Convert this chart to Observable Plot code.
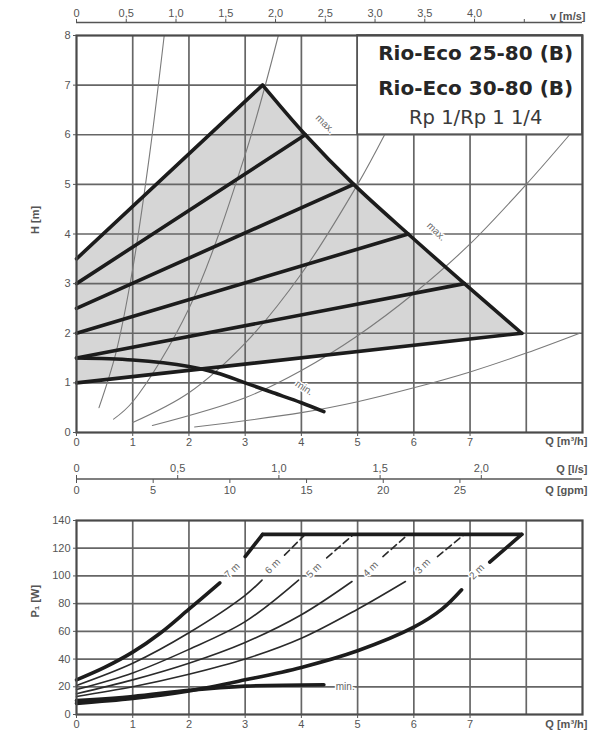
<!DOCTYPE html>
<html><head><meta charset="utf-8">
<script src="https://cdn.jsdelivr.net/npm/d3@7"></script>
<script src="https://cdn.jsdelivr.net/npm/@observablehq/plot@0.6"></script>
<style>
body{margin:0;background:#fff;}
#chart svg{display:block;}
</style></head><body><div id="chart"></div>
<script>
// ---------- Upper chart: head H [m] vs flow Q [m³/h] ----------
const speedLabels = ["7 m","6 m","5 m","4 m","3 m","2 m"];
const speedStartH = [3.5, 3.0, 2.5, 2.0, 1.5, 1.0];      // H at Q = 0
const speedEndQ   = [3.31, 4.07, 4.93, 5.9, 6.9, 7.92];  // end on the max. line
const speedEndH   = [7.0, 6.0, 5.0, 4.0, 3.0, 2.0];
const minCurveQ = [0, 1, 2, 2.5, 3, 3.5, 4, 4.4];
const minCurveH = [1.5, 1.46, 1.33, 1.2, 1.0, 0.8, 0.6, 0.42];
const shadeQ = [0, 0, 3.31, 4.07, 4.93, 5.9, 6.9, 7.92, 0];
const shadeH = [1.0, 3.5, 7.0, 6.0, 5.0, 4.0, 3.0, 2.0, 1.0];
// thin system curves
const sys1Q = [0.4, 0.7, 1.0, 1.3, 1.56],            sys1H = [0.5, 1.6, 3.3, 5.6, 8.0];
const sys2Q = [0.66, 1.0, 2.0, 3.0, 3.59],           sys2H = [0.27, 0.62, 2.5, 5.6, 8.0];
const sys3Q = [1.0, 2.0, 3.0, 4.0, 5.0, 5.48],       sys3H = [0.2, 0.8, 1.8, 3.2, 5.0, 6.0];
const sys4Q = [1.35, 3.0, 4.0, 5.0, 6.0, 7.0, 8.0, 8.77], sys4H = [0.14, 0.7, 1.25, 1.95, 2.8, 3.8, 5.0, 6.0];
const sys5Q = [2.1, 4.0, 5.0, 6.0, 7.0, 8.0, 8.95],  sys5H = [0.11, 0.4, 0.62, 0.9, 1.22, 1.6, 2.0];
const titleLines = ["Rio-Eco 25-80 (B)", "Rio-Eco 30-80 (B)", "Rp 1/Rp 1 1/4"];

// ---------- Axes tick values ----------
const qTicks = [0, 1, 2, 3, 4, 5, 6, 7];
const hTicks = [0, 1, 2, 3, 4, 5, 6, 7, 8];
const vTicks = [0, 0.5, 1.0, 1.5, 2.0, 2.5, 3.0, 3.5, 4.0, 4.5];
const vLabels = ["0", "0,5", "1,0", "1,5", "2,0", "2,5", "3,0", "3,5", "4,0", ""];
const lsTicks = [0, 0.5, 1.0, 1.5, 2.0];
const lsLabels = ["0", "0,5", "1,0", "1,5", "2,0"];
const gpmTicks = [0, 5, 10, 15, 20, 25];
const gpmLabels = ["0", "5", "10", "15", "20", "25"];
const pTicks = [0, 20, 40, 60, 80, 100, 120, 140];

// ---------- Lower chart: power P1 [W] vs Q ----------
const p7Q = [0, 0.5, 1, 1.5, 2, 2.55],  p7P = [25, 34, 45, 59, 76, 95];
const p7Qb = [3.0, 3.31],               p7Pb = [114, 130];
const p6Q = [0, 1, 2, 3, 3.3],          p6P = [21, 37, 59, 86, 97];
const p6Qb = [3.7, 4.07],               p6Pb = [115, 130];
const p5Q = [0, 1, 2, 3, 3.95],         p5P = [18, 30, 47, 67, 97];
const p5Qb = [4.45, 4.93],              p5Pb = [113, 130];
const p4Q = [0, 1, 2, 3, 4, 4.9],       p4P = [15, 25, 37, 52, 72, 96];
const p4Qb = [5.45, 5.9],               p4Pb = [114, 130];
const p3Q = [0, 1, 2, 3, 4, 5, 5.85],   p3P = [13, 20, 29, 40, 55, 76, 96];
const p3Qb = [6.42, 6.9],               p3Pb = [114, 130];
const p2Q = [0, 1, 2, 3, 4, 5, 6, 6.5, 6.85], p2P = [8, 11.5, 17, 25, 34, 46, 63, 76, 90];
const p2Qb = [7.35, 7.92],              p2Pb = [110, 130];
const pMaxQ = [3.31, 7.92],             pMaxP = [130, 130];
const pMinQ = [0, 1, 2, 3, 4.4],        pMinP = [10, 13, 17.5, 20.5, 21.5];
const pLabelQ = [2.77, 3.49, 4.22, 5.23, 6.16, 7.12];
const pLabelP = [104, 107, 104, 105, 107, 103];

// unit conversions for the secondary axes
const QperV = 1.77, QperLs = 3.6, QperGpm = 0.2728;

const pts = (xs, ys, kx = "Q", ky = "H") => xs.map((x, i) => ({[kx]: x, [ky]: ys[i]}));

const FONT = "'Liberation Sans', Arial, sans-serif";
const TITLE_FONT = "'DejaVu Sans', sans-serif";
const GRID = "#666", INK = "#1c1c1c", TXT = "#555";
const W = 591, ML = 76, MR = 9;
const baseStyle = {fontFamily: FONT, fontSize: "11px", color: TXT, background: "white"};

const root = document.getElementById("chart");

// ----- v [m/s] axis -----
const vMap = new Map(vTicks.map((v, i) => [v * QperV, vLabels[i]]));
root.append(Plot.plot({
  width: W, height: 26, marginLeft: ML, marginRight: MR, marginTop: 22, marginBottom: 3,
  style: baseStyle,
  x: {domain: [0, 9]}, y: {domain: [0, 1], axis: null},
  marks: [
    Plot.ruleY([1], {stroke: "#555", strokeWidth: 1.5}),
    Plot.axisX(vTicks.map(v => v * QperV), {anchor: "top", tickSize: 4, tickPadding: 2, stroke: "#555", tickFormat: d => vMap.get(d)}),
    Plot.text(["v [m/s]"], {frameAnchor: "top-right", dy: -10, dx: 3, textAnchor: "end", fontWeight: "bold", fill: TXT})
  ]
}));

// ----- Upper chart -----
const speedRows = speedLabels.flatMap((s, i) => [
  {s, Q: 0, H: speedStartH[i]}, {s, Q: speedEndQ[i], H: speedEndH[i]}
]);
const sysRows = [[sys1Q, sys1H], [sys2Q, sys2H], [sys3Q, sys3H], [sys4Q, sys4H], [sys5Q, sys5H]]
  .flatMap(([qs, hs], k) => qs.map((q, i) => ({k, Q: q, H: hs[i]})));

root.append(Plot.plot({
  width: W, height: 426, marginLeft: ML, marginRight: MR, marginTop: 9, marginBottom: 20,
  style: baseStyle,
  x: {domain: [0, 9]},
  y: {domain: [0, 8]},
  marks: [
    Plot.line(pts(shadeQ, shadeH), {x: "Q", y: "H", fill: "#d6d6d6", stroke: "none"}),
    Plot.gridX([1, 2, 3, 4, 5, 6, 7, 8], {stroke: GRID, strokeOpacity: 1, strokeWidth: 1.7}),
    Plot.gridY([1, 2, 3, 4, 5, 6, 7], {stroke: GRID, strokeOpacity: 1, strokeWidth: 1.7}),
    Plot.line(sysRows, {x: "Q", y: "H", z: "k", curve: "catmull-rom", stroke: "#7a7a7a", strokeWidth: 1.1}),
    Plot.rect([0], {x1: 5, x2: 9, y1: 6, y2: 8, fill: "white", stroke: "#555", strokeWidth: 1.8}),
    Plot.text([titleLines[0]], {x: 7.1, y: 7.64, fontFamily: TITLE_FONT, fontSize: 20, fontWeight: "bold", fill: "#262626"}),
    Plot.text([titleLines[1]], {x: 7.1, y: 6.93, fontFamily: TITLE_FONT, fontSize: 20, fontWeight: "bold", fill: "#262626"}),
    Plot.text([titleLines[2]], {x: 7.1, y: 6.35, fontFamily: TITLE_FONT, fontSize: 19.5, fill: "#3a3a3a"}),
    Plot.line(speedRows, {x: "Q", y: "H", z: "s", stroke: INK, strokeWidth: 3.6, strokeLinecap: "round"}),
    Plot.line(pts(speedEndQ, speedEndH), {x: "Q", y: "H", curve: "catmull-rom", stroke: INK, strokeWidth: 3.6, strokeLinejoin: "round"}),
    Plot.line(pts(minCurveQ, minCurveH), {x: "Q", y: "H", curve: "catmull-rom", stroke: INK, strokeWidth: 3.6}),
    Plot.text(["max.", "max."], {x: [4.42, 6.4], y: [6.22, 4.05], text: d => d, rotate: 44, fontSize: 10, fill: "#666", stroke: "white", strokeWidth: 3}),
    Plot.text(["min."], {x: 4.05, y: 0.9, text: d => d, rotate: 33, fontSize: 10, fill: "#666", stroke: "white", strokeWidth: 3}),
    Plot.frame({stroke: "#4a4a4a", strokeWidth: 2.2}),
    Plot.axisY(hTicks, {tickSize: 3, tickPadding: 3, label: null, tickFormat: d => String(d)}),
    Plot.text(["H [m]"], {frameAnchor: "left", dx: -41, rotate: -90, fontWeight: "bold", fill: TXT}),
    Plot.axisX(qTicks, {tickSize: 4, tickPadding: 2, label: null, tickFormat: d => String(d)}),
    Plot.text(["Q [m³/h]"], {frameAnchor: "bottom-right", dy: 12, dx: 5, textAnchor: "end", fontWeight: "bold", fill: TXT})
  ]
}));

// ----- Q [l/s] / Q [gpm] axes -----
const lsMap = new Map(lsTicks.map((v, i) => [v * QperLs, lsLabels[i]]));
const gpmMap = new Map(gpmTicks.map((v, i) => [v * QperGpm, gpmLabels[i]]));
root.append(Plot.plot({
  width: W, height: 53, marginLeft: ML, marginRight: MR, marginTop: 26, marginBottom: 26,
  style: baseStyle,
  x: {domain: [0, 9]}, y: {domain: [0, 1], axis: null},
  marks: [
    Plot.ruleY([0.5], {stroke: "#555", strokeWidth: 1.5}),
    Plot.axisX(lsTicks.map(v => v * QperLs), {anchor: "top", tickSize: 4, tickPadding: 3, stroke: "#555", tickFormat: d => lsMap.get(d)}),
    Plot.axisX(gpmTicks.map(v => v * QperGpm), {anchor: "bottom", tickSize: 4, tickPadding: 3, stroke: "#555", tickFormat: d => gpmMap.get(d)}),
    Plot.text(["Q [l/s]"], {frameAnchor: "top-right", dy: -13, dx: 5, textAnchor: "end", fontWeight: "bold", fill: TXT}),
    Plot.text(["Q [gpm]"], {frameAnchor: "bottom-right", dy: 14, dx: 5, textAnchor: "end", fontWeight: "bold", fill: TXT})
  ]
}));

// ----- Lower chart -----
const thinSolid = [[p6Q, p6P], [p5Q, p5P], [p4Q, p4P], [p3Q, p3P]]
  .flatMap(([qs, ps], k) => qs.map((q, i) => ({k, Q: q, P: ps[i]})));
const thinDashed = [[p6Qb, p6Pb], [p5Qb, p5Pb], [p4Qb, p4Pb], [p3Qb, p3Pb]]
  .flatMap(([qs, ps], k) => qs.map((q, i) => ({k, Q: q, P: ps[i]})));
const thick = [[p7Q, p7P], [p7Qb, p7Pb], [p2Q, p2P], [p2Qb, p2Pb], [pMaxQ, pMaxP], [pMinQ, pMinP]]
  .flatMap(([qs, ps], k) => qs.map((q, i) => ({k, Q: q, P: ps[i]})));

root.append(Plot.plot({
  width: W, height: 238, marginLeft: ML, marginRight: MR, marginTop: 15, marginBottom: 29,
  style: baseStyle,
  x: {domain: [0, 9]},
  y: {domain: [0, 140]},
  marks: [
    Plot.gridX([1, 2, 3, 4, 5, 6, 7, 8], {stroke: GRID, strokeOpacity: 1, strokeWidth: 1.7}),
    Plot.gridY([20, 40, 60, 80, 100, 120], {stroke: GRID, strokeOpacity: 1, strokeWidth: 1.7}),
    Plot.line(thinSolid, {x: "Q", y: "P", z: "k", curve: "catmull-rom", stroke: "#2a2a2a", strokeWidth: 1.6}),
    Plot.line(thinDashed, {x: "Q", y: "P", z: "k", stroke: "#2a2a2a", strokeWidth: 1.6, strokeDasharray: "7,4"}),
    Plot.line(thick, {x: "Q", y: "P", z: "k", curve: "catmull-rom", stroke: INK, strokeWidth: 3.6, strokeLinejoin: "round"}),
    Plot.text(speedLabels, {x: pLabelQ, y: pLabelP, text: d => d, rotate: -45, fontSize: 10, fill: "#666", stroke: "white", strokeWidth: 3}),
    Plot.text(["min."], {x: 4.78, y: 20, text: d => d, fontSize: 10, fill: "#666", stroke: "white", strokeWidth: 3}),
    Plot.frame({stroke: "#4a4a4a", strokeWidth: 2.2}),
    Plot.axisY(pTicks, {tickSize: 3, tickPadding: 3, label: null, tickFormat: d => String(d)}),
    Plot.text(["P₁ [W]"], {frameAnchor: "left", dx: -41, rotate: -90, fontWeight: "bold", fill: TXT}),
    Plot.axisX(qTicks, {tickSize: 4, tickPadding: 2, label: null, tickFormat: d => String(d)}),
    Plot.text(["Q [m³/h]"], {frameAnchor: "bottom-right", dy: 13, dx: 5, textAnchor: "end", fontWeight: "bold", fill: TXT})
  ]
}));
</script></body></html>
